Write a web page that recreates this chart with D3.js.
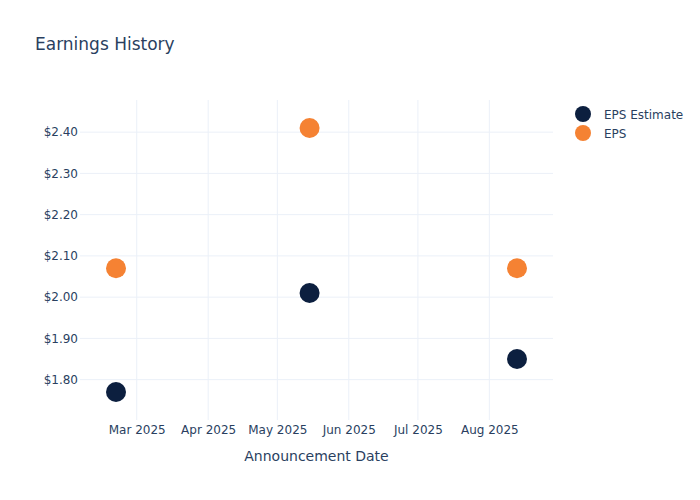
<!DOCTYPE html>
<html>
<head>
<meta charset="utf-8">
<script src="https://cdn.jsdelivr.net/npm/d3@7"></script>
<style>
  body { margin: 0; background: #fff; }
  text { font-family: "DejaVu Sans", Verdana, sans-serif; fill: #2a3f5f; }
</style>
</head>
<body>
<svg id="chart" width="700" height="500"></svg>
<script>
const dates = ["2025-02-20", "2025-05-15", "2025-08-13"];
const epsEstimate = [1.77, 2.01, 1.85];
const epsActual = [2.07, 2.41, 2.07];
const seriesNames = ["EPS Estimate", "EPS"];
const seriesColors = ["#0c1f3f", "#f58233"];
const yTicks = [1.8, 1.9, 2.0, 2.1, 2.2, 2.3, 2.4];

const parse = d3.timeParse("%Y-%m-%d");
const dts = dates.map(parse);

const svg = d3.select("#chart");
const plot = { left: 80, right: 553, top: 100, bottom: 420 };
const pad = 36, ypad = 28;

const x = d3.scaleTime()
  .domain(d3.extent(dts))
  .range([plot.left + pad, plot.right - pad]);
const allY = epsEstimate.concat(epsActual);
const y = d3.scaleLinear()
  .domain(d3.extent(allY))
  .range([plot.bottom - ypad, plot.top + ypad]);

const grid = "#ebf0f8";
const monthTicks = d3.timeMonth.range(x.invert(plot.left), x.invert(plot.right))
  .map(d => d3.timeMonth.ceil(d))
  .filter((d, i, a) => x(d) >= plot.left && x(d) <= plot.right && (i === 0 || +d !== +a[i - 1]));

// Grid lines
svg.append("g").selectAll("line").data(yTicks).join("line")
  .attr("x1", plot.left).attr("x2", plot.right)
  .attr("y1", d => y(d)).attr("y2", d => y(d))
  .attr("stroke", grid).attr("stroke-width", 1);
svg.append("g").selectAll("line").data(monthTicks).join("line")
  .attr("y1", plot.top).attr("y2", plot.bottom)
  .attr("x1", d => x(d)).attr("x2", d => x(d))
  .attr("stroke", grid).attr("stroke-width", 1);

// Axes using d3 axis, styled
const xAxis = d3.axisBottom(x).tickValues(monthTicks).tickFormat(d3.timeFormat("%b %Y")).tickSize(0).tickPadding(5);
const gx = svg.append("g").attr("transform", `translate(0,${plot.bottom})`).call(xAxis);
gx.select(".domain").remove();
gx.selectAll("text").style("font-size", "12px").attr("fill", "#2a3f5f")
  .style("font-family", '"DejaVu Sans", Verdana, sans-serif');

const yAxis = d3.axisLeft(y).tickValues(yTicks).tickFormat(d => "$" + d3.format(".2f")(d)).tickSize(0).tickPadding(2);
const gy = svg.append("g").attr("transform", `translate(${plot.left},0)`).call(yAxis);
gy.select(".domain").remove();
gy.selectAll("text").style("font-size", "12px").attr("fill", "#2a3f5f")
  .style("font-family", '"DejaVu Sans", Verdana, sans-serif');

// Points
const series = [epsEstimate, epsActual];
series.forEach((vals, si) => {
  svg.append("g").selectAll("circle").data(vals).join("circle")
    .attr("cx", (d, i) => x(dts[i]))
    .attr("cy", d => y(d))
    .attr("r", 10)
    .attr("fill", seriesColors[si]);
});

// Title
svg.append("text").attr("x", 35).attr("y", 50).style("font-size", "17px").text("Earnings History");
// X axis title
svg.append("text").attr("x", (plot.left + plot.right) / 2).attr("y", 461)
  .attr("text-anchor", "middle").style("font-size", "14px").text("Announcement Date");

// Legend
const lg = svg.append("g");
seriesNames.forEach((n, i) => {
  const yy = 114 + i * 19;
  lg.append("circle").attr("cx", 583).attr("cy", yy).attr("r", 8).attr("fill", seriesColors[i]);
  lg.append("text").attr("x", 604).attr("y", yy + 4.5).style("font-size", "12px").text(n);
});
</script>
</body>
</html>
